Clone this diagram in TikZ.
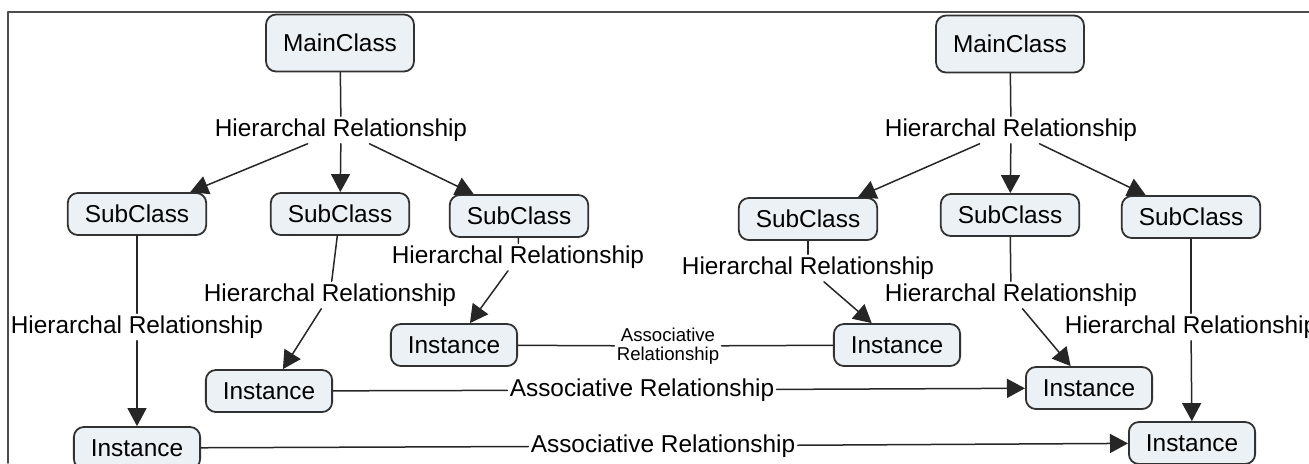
\documentclass[tikz,border=0pt]{standalone}
\usepackage{fontspec}
\setmainfont{Liberation Sans}
\usetikzlibrary{arrows.meta}
\definecolor{boxfill}{RGB}{235,241,244}
\definecolor{boxline}{RGB}{50,50,50}
\begin{document}
\begin{tikzpicture}[x=0.5pt,y=-0.5pt,line cap=round,line join=round,>={Triangle[length=9pt,width=9.5pt]},
		cls/.style={draw=boxline,line width=0.9pt,fill=boxfill,rounded corners=5pt,inner xsep=8.5pt,minimum height=21pt,font=\fontsize{12.2}{14}\selectfont},
		rel/.style={inner sep=1pt,font=\fontsize{12.2}{14}\selectfont},
		conn/.style={line width=0.75pt,color=black!85}]
		\useasboundingbox (0,0) rectangle (1309,463);
		\clip (0,0) rectangle (1309,463);
		\draw[color=black!70,line width=0.75pt] (8,463) -- (8,12) -- (1309,12);
		% left tree
		\node[cls,minimum height=28.5pt] (mainL) at (340,43) {MainClass};
		\node[rel] (hrL) at (341,130) {Hierarchal Relationship};
		\node[cls] (subL1) at (137,214) {SubClass};
		\node[cls] (subL2) at (340,214) {SubClass};
		\node[cls] (subL3) at (519,216) {SubClass};
		\node[rel] (hrL1) at (137,327) {Hierarchal Relationship};
		\node[rel] (hrL2) at (330,295) {Hierarchal Relationship};
		\node[rel] (hrL3) at (518,257) {Hierarchal Relationship};
		\node[cls] (instL1) at (137,448) {Instance};
		\node[cls] (instL2) at (269,391) {Instance};
		\node[cls] (instL3) at (454,345) {Instance};
		% right tree
		\node[cls,minimum height=28.5pt] (mainR) at (1010,44) {MainClass};
		\node[rel] (hrR) at (1011,130) {Hierarchal Relationship};
		\node[cls] (subR1) at (808,219) {SubClass};
		\node[cls] (subR2) at (1010,215) {SubClass};
		\node[cls] (subR3) at (1191,217) {SubClass};
		\node[rel] (hrR1) at (808,268) {Hierarchal Relationship};
		\node[rel] (hrR2) at (1011,295) {Hierarchal Relationship};
		\node[rel] (hrR3) at (1191,327) {Hierarchal Relationship};
		\node[cls] (instR1) at (897,345) {Instance};
		\node[cls] (instR2) at (1089,388) {Instance};
		\node[cls] (instR3) at (1192,443) {Instance};
		% associative labels
		\node[rel,align=center,font=\fontsize{9.3}{9.5}\selectfont] (asTop) at (668,346) {Associative\\Relationship};
		\node[rel] (asMid) at (642,390) {Associative Relationship};
		\node[rel] (asBot) at (663,446) {Associative Relationship};
		% connectors
		\draw[conn] (mainL) -- (hrL);
		\foreach \s in {subL1,subL2,subL3} \draw[conn,->] (hrL) -- (\s);
		\draw[conn] (mainR) -- (hrR);
		\foreach \s in {subR1,subR2,subR3} \draw[conn,->] (hrR) -- (\s);
		\foreach \i in {1,2,3} {
			\draw[conn] (subL\i) -- (hrL\i);
			\draw[conn,->] (hrL\i) -- (instL\i);
			\draw[conn] (subR\i) -- (hrR\i);
			\draw[conn,->] (hrR\i) -- (instR\i);
		}
		\draw[conn] (instL3) -- (asTop) -- (instR1);
		\draw[conn] (instL2) -- (asMid);
		\draw[conn,->] (asMid) -- (instR2);
		\draw[conn] (instL1) -- (asBot);
		\draw[conn,->] (asBot) -- (instR3);
	\end{tikzpicture}
\end{document}
